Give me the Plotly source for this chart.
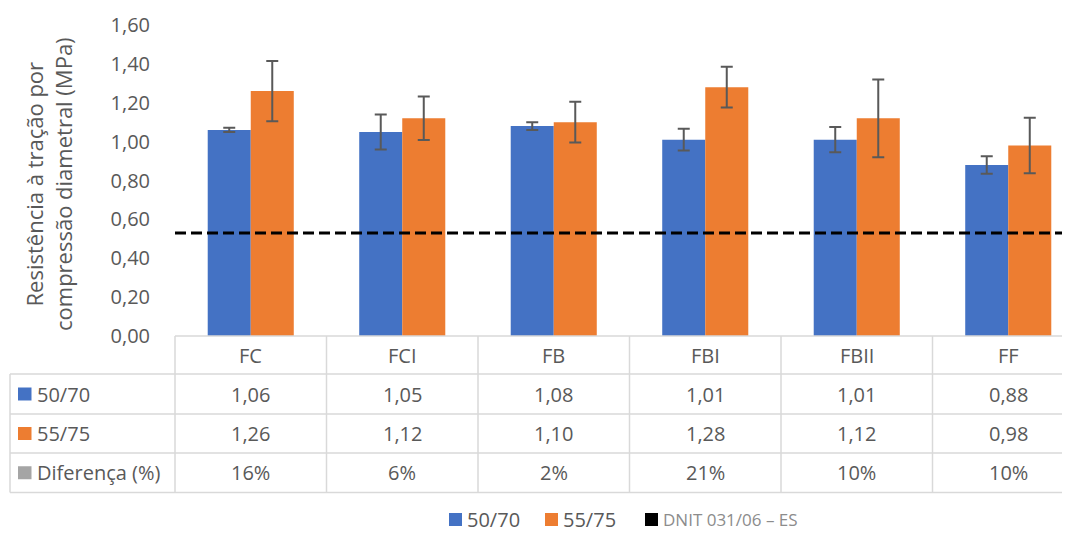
import plotly.graph_objects as go

categories = ["FC", "FCI", "FB", "FBI", "FBII", "FF"]
s5070 = [1.06, 1.05, 1.08, 1.01, 1.01, 0.88]
s5575 = [1.26, 1.12, 1.10, 1.28, 1.12, 0.98]
err5070 = [0.011, 0.09, 0.02, 0.056, 0.065, 0.045]
err5575 = [0.155, 0.112, 0.105, 0.105, 0.20, 0.143]
diff_labels = ["16%", "6%", "2%", "21%", "10%", "10%"]
dnit_value = [0.53]
yticks = [0.0, 0.2, 0.4, 0.6, 0.8, 1.0, 1.2, 1.4, 1.6]
ytick_text = ["0,00", "0,20", "0,40", "0,60", "0,80", "1,00", "1,20", "1,40", "1,60"]

BLUE = "#4472C4"
ORANGE = "#ED7D31"
GRAY_TXT = "#595959"
BORDER = "#D9D9D9"
FONT = "Open Sans"

OFF = 8                      # page body margin
W, H = 1070 - OFF, 535 - OFF
PL, PR = 175, 1070           # plot area in page px
PT, PB = 25, 336
col_w = 151.5
xr0 = -0.5
xr1 = -0.5 + (PR - PL) / col_w


def px(xpix):
    return (xpix - PL) / (PR - PL)


def py(ypix):
    return (PB - ypix) / (PB - PT)


def cat_px(k):
    return PL + (k - xr0) * col_w


def fmt(v):
    return f"{v:.2f}".replace(".", ",")


fig = go.Figure()
fig.add_trace(go.Bar(
    x=categories, y=s5070, name="50/70", marker_color=BLUE,
    marker_line_width=0,
    error_y=dict(type="data", array=err5070, color="#595959", thickness=2, width=6),
))
fig.add_trace(go.Bar(
    x=categories, y=s5575, name="55/75", marker_color=ORANGE,
    marker_line_width=0,
    error_y=dict(type="data", array=err5575, color="#595959", thickness=2, width=6),
))

shapes = []
annotations = []


def text(xp, yp, s, size=20, color=GRAY_TXT, xanchor="center", angle=0):
    annotations.append(dict(x=px(xp), y=py(yp), xref="paper", yref="paper",
                            xanchor=xanchor, yanchor="middle", text=s, showarrow=False,
                            textangle=angle, font=dict(size=size, color=color, family=FONT)))


# DNIT reference line
shapes.append(dict(type="line", xref="paper", yref="y", x0=0, x1=1,
                   y0=dnit_value[0], y1=dnit_value[0],
                   line=dict(color="black", width=3, dash="11px,5px")))

# table geometry
row_lines = [336, 374, 414, 453, 492.5]
left_x = 10
line_style = dict(color=BORDER, width=1.5)
shapes.append(dict(type="line", xref="paper", yref="paper", x0=0, x1=1,
                   y0=py(row_lines[0]), y1=py(row_lines[0]), line=line_style))
for yl in row_lines[1:]:
    shapes.append(dict(type="line", xref="paper", yref="paper", x0=px(left_x), x1=1,
                       y0=py(yl), y1=py(yl), line=line_style))
shapes.append(dict(type="line", xref="paper", yref="paper", x0=px(left_x), x1=px(left_x),
                   y0=py(row_lines[1]), y1=py(row_lines[-1]), line=line_style))
for k in range(len(categories)):
    xb = cat_px(k - 0.5)
    if xb <= PR:
        shapes.append(dict(type="line", xref="paper", yref="paper", x0=px(xb), x1=px(xb),
                           y0=py(row_lines[0]), y1=py(row_lines[-1]), line=line_style))

row_centers = [(row_lines[i] + row_lines[i + 1]) / 2 for i in range(4)]

for k, c in enumerate(categories):
    cx = cat_px(k)
    text(cx, row_centers[0], c)
    text(cx, row_centers[1], fmt(s5070[k]))
    text(cx, row_centers[2], fmt(s5575[k]))
    text(cx, row_centers[3], diff_labels[k])

row_keys = [("50/70", BLUE), ("55/75", ORANGE), ("Diferença (%)", "#A5A5A5")]
for i, (lab, col) in enumerate(row_keys):
    yc = row_centers[i + 1]
    shapes.append(dict(type="rect", xref="paper", yref="paper",
                       x0=px(18), x1=px(31.5), y0=py(yc + 6.5), y1=py(yc - 6.5),
                       fillcolor=col, line_width=0))
    text(35, yc, lab, xanchor="left")

LEG_Y = 519
leg = [(449, BLUE, "50/70", 20, GRAY_TXT), (545, ORANGE, "55/75", 20, GRAY_TXT),
       (645, "black", "DNIT 031/06 – ES", 17, "#8C8C8C")]
for x0, col, lab, fs, tc in leg:
    shapes.append(dict(type="rect", xref="paper", yref="paper",
                       x0=px(x0), x1=px(x0 + 13), y0=py(LEG_Y + 7), y1=py(LEG_Y - 6),
                       fillcolor=col, line_width=0))
    text(x0 + 16, LEG_Y, lab, size=fs, color=tc, xanchor="left")

text(48, 184, "Resistência à tração por<br>compressão diametral (MPa)", size=22, angle=-90)

fig.update_layout(
    width=W, height=H,
    margin=dict(l=PL - OFF, r=1070 - PR, t=PT - OFF, b=535 - PB, pad=0),
    paper_bgcolor="white", plot_bgcolor="white",
    barmode="group", bargap=0.432, bargroupgap=0,
    showlegend=False,
    shapes=shapes, annotations=annotations,
    font=dict(family=FONT, color=GRAY_TXT),
)
fig.update_xaxes(range=[xr0, xr1], showticklabels=False, showgrid=False,
                 zeroline=False, showline=False, ticks="")
fig.update_yaxes(range=[0, 1.6], tickvals=yticks, ticktext=ytick_text,
                 showgrid=False, zeroline=False, showline=False, ticks="",
                 ticklabelstandoff=24,
                 tickfont=dict(size=20, color=GRAY_TXT, family=FONT))

fig.write_html("out.html")
